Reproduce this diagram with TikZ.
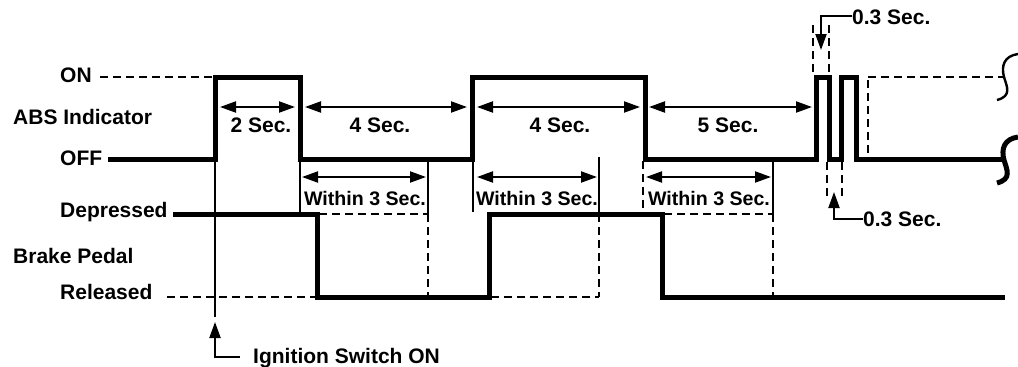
\documentclass[tikz,border=0pt]{standalone}
\usepackage{fontspec}
\setmainfont{Liberation Sans}
\usetikzlibrary{arrows.meta}
\begin{document}
\begin{tikzpicture}[x=1pt,y=-1pt,
  sig/.style={line width=5pt, line join=miter, line cap=butt},
  thinl/.style={line width=2pt},
  dsh/.style={line width=2pt, dash pattern=on 8pt off 5pt},
  tip/.style={-{Triangle[length=16pt,width=11pt]}},
  dim/.style={line width=2pt, {Triangle[length=16pt,width=11pt]}-{Triangle[length=16pt,width=11pt]}},
  lbl/.style={font=\fontsize{21}{24}\selectfont\bfseries, inner sep=0pt},
  wlbl/.style={font=\fontsize{19.6}{24}\selectfont\bfseries, inner sep=0pt},
]
\useasboundingbox (0,0) rectangle (1018,367);

% ---- labels ----
\node[lbl, anchor=base west] (on)  at (60,82)  {ON};
\node[lbl, anchor=base west] (abs) at (13,124) {ABS Indicator};
\node[lbl, anchor=base west] (off) at (60,165) {OFF};
\node[lbl, anchor=base west] (dep) at (60,217) {Depressed};
\node[lbl, anchor=base west] (bp)  at (13,263) {Brake Pedal};
\node[lbl, anchor=base west] (rel) at (60,299) {Released};

% ---- key coordinates ----
\coordinate (onS) at (100,77);
\coordinate (onE) at (213,77);
\coordinate (relS) at (167,297);
\coordinate (relE) at (317,297);

% ---- ABS indicator signal ----
\draw[dsh] (onS) -- (onE);
\draw[sig] (108,159) -- (215,159) -- (215,77) -- (300,77) -- (300,159)
  -- (472,159) -- (472,77) -- (645,77) -- (645,159) -- (816,159) -- (816,77)
  -- (829,77) -- (829,159) -- (841,159) -- (841,77) -- (856,77) -- (856,159)
  -- (1004,159);
\draw[dsh] (868,77) -- (1003,77);
\draw[dsh] (868,80) -- (868,157);

% break symbols
\draw[line width=2.4pt] (1018,54) .. controls (1004,56) and (1001,66) .. (1004,77)
  .. controls (1007,87) and (1012,96) .. (997,100);
\draw[line width=5pt] (1018,137) .. controls (1004,139) and (1001,149) .. (1004,160)
  .. controls (1007,170) and (1012,179) .. (997,183);

% ---- Brake pedal signal ----
\draw[dsh] (relS) -- (relE);
\draw[sig] (173,214) -- (317,214) -- (317,297) -- (489,297) -- (489,214)
  -- (662,214) -- (662,297) -- (1005,297);

% ---- Ignition switch ----
\coordinate (ignTop) at (215,159);
\coordinate (ignBot) at (215,317);
\draw[thinl] (ignTop) -- (ignBot);
\node[lbl, anchor=base west] (ign) at (253,363) {Ignition Switch ON};
\draw[thinl, tip] (240,357) -- (215,357) -- (215,322);

% ---- time arrows ----
\draw[dim] (220,107) -- (295,107);
\node[lbl, anchor=base] (t2) at (261,132) {2 Sec.};
\draw[dim] (305,107) -- (467,107);
\node[lbl, anchor=base] (t4a) at (380,132) {4 Sec.};
\draw[dim] (477,107) -- (640,107);
\node[lbl, anchor=base] (t4b) at (560,132) {4 Sec.};
\draw[dim] (649,107) -- (812,107);
\node[lbl, anchor=base] (t5) at (728,132) {5 Sec.};

% ---- Within 3 Sec. boxes ----
% box 1
\draw[thinl] (300,159) -- (300,213);
\draw[thinl] (428,159) -- (428,214);
\draw[dsh] (428,214) -- (428,297);
\draw[dsh] (319,214) -- (428,214);
\draw[dim] (302,177) -- (426,177);
\node[wlbl, anchor=base] (w1) at (365,205) {Within 3 Sec.};
% box 2
\draw[thinl] (473,159) -- (473,212);
\draw[thinl] (599,157) -- (599,214);
\draw[dsh] (599,214) -- (599,297);
\draw[dsh] (491,297) -- (599,297);
\draw[dim] (477,177) -- (597,177);
\node[wlbl, anchor=base] (w2) at (537,205) {Within 3 Sec.};
% box 3
\draw[dsh] (643,161) -- (643,212);
\draw[thinl] (773,159) -- (773,214);
\draw[dsh] (773,214) -- (773,297);
\draw[dsh] (664,214) -- (773,214);
\draw[dim] (646,177) -- (771,177);
\node[wlbl, anchor=base] (w3) at (709,205) {Within 3 Sec.};

% ---- 0.3 Sec. marks ----
\draw[dsh] (813,25) -- (813,74);
\draw[dsh] (829,25) -- (829,74);
\node[lbl, anchor=base west] (p1) at (852,24) {0.3 Sec.};
\draw[thinl, tip] (p1.west |- 0,16) -- (821,16) -- (821,50);
\draw[dsh] (827,162) -- (827,196);
\draw[dsh] (842,162) -- (842,196);
\node[lbl, anchor=base west] (p2) at (863,226) {0.3 Sec.};
\draw[thinl, tip] (p2.west |- 0,219) -- (834,219) -- (834,192);
\end{tikzpicture}
\end{document}
